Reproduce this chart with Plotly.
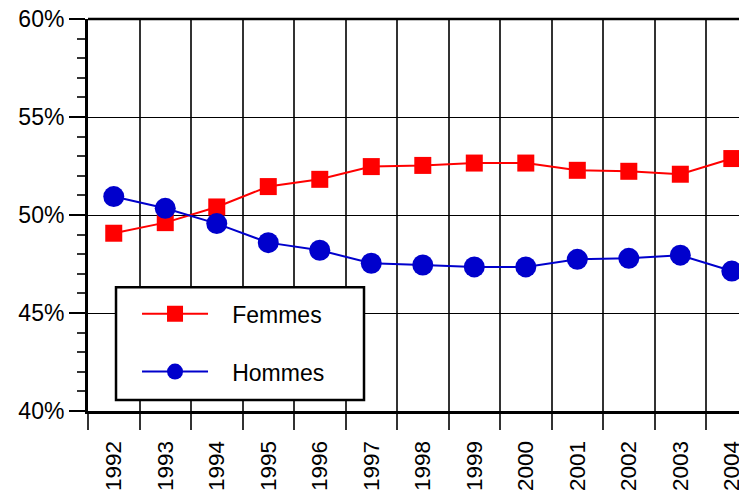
import plotly.graph_objects as go

# data
years = ["1992", "1993", "1994", "1995", "1996", "1997", "1998",
         "1999", "2000", "2001", "2002", "2003", "2004"]
femmes = [49.07, 49.61, 50.41, 51.45, 51.82, 52.47, 52.53,
          52.65, 52.65, 52.28, 52.23, 52.08, 52.88]
hommes = [50.94, 50.34, 49.56, 48.59, 48.20, 47.54, 47.45,
          47.35, 47.35, 47.74, 47.79, 47.95, 47.14]
y_ticks = [40, 45, 50, 55, 60]
y_labels = ["40%", "45%", "50%", "55%", "60%"]

FONT = "Liberation Sans, Arial, sans-serif"
PAD = "\u00a0\u00a0\u00a0"  # gap between legend symbol and text

fig = go.Figure()

fig.add_trace(go.Scatter(
    x=years, y=femmes, name=PAD + "Femmes", mode="lines+markers",
    line=dict(color="#ff0000", width=2),
    marker=dict(symbol="square", size=17, color="#ff0000"),
    legendgroup="f",
))
fig.add_trace(go.Scatter(
    x=years, y=hommes, name=PAD + "Hommes", mode="lines+markers",
    line=dict(color="#0000cc", width=2),
    marker=dict(symbol="circle", size=21, color="#0000cc"),
    legendgroup="h",
))

# legend frame (white box with black border)
fig.add_shape(
    type="rect", xref="paper", yref="paper",
    x0=0.042, x1=0.4138, y0=0.028, y1=0.316,
    line=dict(color="black", width=2.5), fillcolor="white", layer="above",
)
# top border of the plot area
fig.add_shape(
    type="line", xref="paper", yref="paper", x0=0, x1=1, y0=1, y1=1,
    line=dict(color="black", width=2.5), layer="above",
)

# the page body has an 8px margin, so margins are reduced by 8
fig.update_layout(
    width=747,
    height=496,
    margin=dict(l=80, r=0, t=11, b=93),
    paper_bgcolor="white",
    plot_bgcolor="white",
    font=dict(family=FONT, size=23, color="black"),
    showlegend=True,
    legend=dict(
        x=0.0735, y=0.303, xanchor="left", yanchor="top",
        bgcolor="rgba(0,0,0,0)", borderwidth=0,
        traceorder="grouped", tracegroupgap=25,
        itemwidth=66,
        font=dict(family=FONT, size=23, color="black"),
    ),
)

fig.update_xaxes(
    type="category",
    range=[-0.5, 12.45],
    automargin=False,
    tickson="boundaries",
    ticks="outside", ticklen=16, tickwidth=1.5, tickcolor="#333",
    ticklabelstandoff=18,
    ticklabeloverflow="allow",
    showgrid=True, gridcolor="#333", gridwidth=1.5,
    showline=True, linecolor="black", linewidth=3,
    tickangle=-90,
    tickfont=dict(family=FONT, size=22.5),
)

fig.update_yaxes(
    range=[40, 60],
    automargin=False,
    tickmode="array",
    tickvals=y_ticks,
    ticktext=y_labels,
    ticklabeloverflow="allow",
    ticks="outside", ticklen=16, tickwidth=1.5, tickcolor="black",
    minor=dict(dtick=1, ticks="outside", ticklen=8, tickcolor="#333", tickwidth=1.5),
    showgrid=True, gridcolor="black", gridwidth=1,
    zeroline=False,
    showline=True, linecolor="black", linewidth=3,
    tickfont=dict(family=FONT, size=23),
)

fig.write_html("out.html")
